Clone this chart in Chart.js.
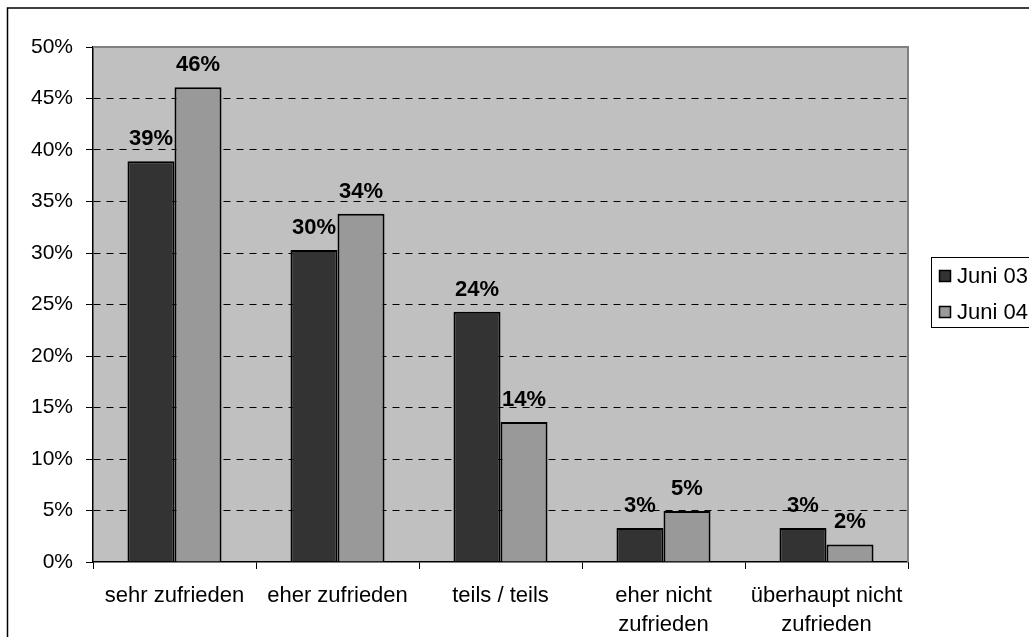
<!DOCTYPE html>
<html>
<head>
<meta charset="utf-8">
<script src="https://cdn.jsdelivr.net/npm/chart.js@4/dist/chart.umd.min.js"></script>
<style>
  html, body { margin: 0; padding: 0; background: #fff; }
  #wrap { width: 1029px; height: 637px; position: relative; }
</style>
</head>
<body>
<div id="wrap"><canvas id="chart"></canvas></div>
<script>
const categories = ["sehr zufrieden", "eher zufrieden", "teils / teils", ["eher nicht", "zufrieden"], ["überhaupt nicht", "zufrieden"]];
const seriesNames = ["Juni 03", "Juni 04"];
const juni03 = [38.9, 30.3, 24.3, 3.3, 3.3];
const juni04 = [46.1, 33.8, 13.6, 4.95, 1.7];
const barColors = ["#333333", "#999999"];
const yTicks = [0, 5, 10, 15, 20, 25, 30, 35, 40, 45, 50];

const FONT = "Arial, 'Liberation Sans', sans-serif";

// grey plot area + outer frame
const backdrop = {
  id: "backdrop",
  beforeDraw(chart) {
    const ctx = chart.ctx;
    const a = chart.chartArea;
    ctx.save();
    ctx.fillStyle = "#fff";
    ctx.fillRect(0, 0, chart.width, chart.height);
    ctx.strokeStyle = "#000";
    ctx.lineWidth = 1.5;
    ctx.strokeRect(7.5, 8, chart.width + 20, chart.height + 20);
    ctx.fillStyle = "#C0C0C0";
    ctx.fillRect(a.left, a.top, a.right - a.left, a.bottom - a.top);
    ctx.restore();
  },
  afterDatasetsDraw(chart) {
    const ctx = chart.ctx;
    const a = chart.chartArea;
    ctx.save();
    // top and right edge of the plot area
    ctx.strokeStyle = "#808080";
    ctx.lineWidth = 2;
    ctx.beginPath();
    ctx.moveTo(a.left, a.top);
    ctx.lineTo(a.right, a.top);
    ctx.lineTo(a.right, a.bottom);
    ctx.stroke();
    // value labels
    ctx.fillStyle = "#000";
    ctx.font = "bold 22px " + FONT;
    ctx.textAlign = "center";
    ctx.textBaseline = "alphabetic";
    chart.data.datasets.forEach((ds, i) => {
      chart.getDatasetMeta(i).data.forEach((bar, j) => {
        ctx.fillText(Math.round(ds.data[j]) + "%", bar.x, bar.y - 16);
      });
    });
    ctx.restore();
  },
  afterDraw(chart) {
    // legend box on the right
    const ctx = chart.ctx;
    ctx.save();
    ctx.fillStyle = "#fff";
    ctx.strokeStyle = "#000";
    ctx.lineWidth = 1;
    ctx.fillRect(931.5, 257.5, 200, 70);
    ctx.strokeRect(931.5, 257.5, 200, 70);
    ctx.font = "22px " + FONT;
    ctx.textBaseline = "alphabetic";
    ctx.textAlign = "left";
    chart.data.datasets.forEach((ds, i) => {
      const y = 270 + i * 36;
      ctx.fillStyle = ds.backgroundColor;
      ctx.fillRect(939, y, 12, 12);
      ctx.lineWidth = 1.5;
      ctx.strokeRect(939.5, y + 0.5, 11, 11);
      ctx.fillStyle = "#000";
      ctx.fillText(ds.label, 957, y + 13);
    });
    ctx.restore();
  }
};

new Chart(document.getElementById("chart"), {
  type: "bar",
  data: {
    labels: categories,
    datasets: seriesNames.map((name, i) => ({
      label: name,
      data: i === 0 ? juni03 : juni04,
      backgroundColor: barColors[i],
      borderColor: "#000",
      borderWidth: 2,
      borderSkipped: "start",
      categoryPercentage: 0.577,
      barPercentage: 1
    }))
  },
  options: {
    responsive: true,
    maintainAspectRatio: false,
    animation: false,
    devicePixelRatio: 1,
    layout: { padding: { left: 0, top: 47, right: 121, bottom: 0 } },
    plugins: {
      legend: { display: false },
      tooltip: { enabled: false }
    },
    scales: {
      x: {
        afterFit(scale) { scale.height = 75; },
        grid: {
          offset: true,
          drawOnChartArea: false,
          drawTicks: true,
          tickLength: 7,
          tickColor: "#000",
          tickWidth: 1
        },
        border: { color: "#000", width: 1.5 },
        ticks: {
          color: "#000",
          padding: 12,
          maxRotation: 0,
          autoSkip: false,
          font: { family: FONT, size: 22, lineHeight: 1.32 }
        }
      },
      y: {
        min: 0,
        max: 50,
        afterFit(scale) { scale.width = 93; },
        afterBuildTicks(scale) { scale.ticks = yTicks.map(v => ({ value: v })); },
        grid: {
          color: ctx => (ctx.tick && (ctx.tick.value === 0 || ctx.tick.value === 50)) ? "rgba(0,0,0,0)" : "#000",
          lineWidth: 1,
          tickBorderDash: [],
          tickLength: 7,
          tickColor: "#000",
          tickWidth: 1
        },
        border: { color: "#000", width: 1.5, dash: [7, 6] },
        ticks: {
          color: "#000",
          padding: 13,
          font: { family: FONT, size: 21 },
          callback: v => v + "%"
        }
      }
    }
  },
  plugins: [backdrop]
});
</script>
</body>
</html>
